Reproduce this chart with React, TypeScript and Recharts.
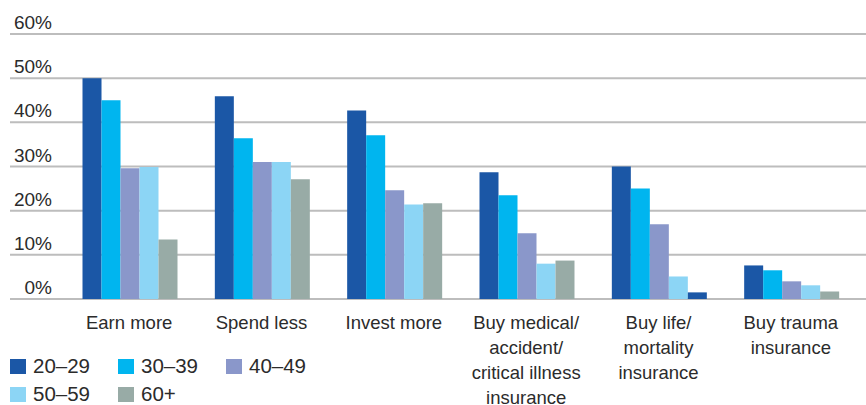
import { Bar, BarChart, CartesianGrid, Cell, XAxis, YAxis } from "recharts"

const categories = [
    "Earn more",
    "Spend less",
    "Invest more",
    "Buy medical/\naccident/\ncritical illness\ninsurance",
    "Buy life/\nmortality\ninsurance",
    "Buy trauma\ninsurance",
]

const age20to29 = [50.0, 45.9, 42.7, 28.7, 30.0, 7.6]
const age30to39 = [45.0, 36.4, 37.1, 23.5, 25.0, 6.5]
const age40to49 = [29.6, 31.0, 24.6, 14.9, 16.9, 4.0]
const age50to59 = [29.9, 31.0, 21.4, 8.0, 5.1, 3.1]
const age60plus = [13.5, 27.1, 21.7, 8.7, 1.5, 1.7]

const seriesNames = ["20–29", "30–39", "40–49", "50–59", "60+"]
const seriesKeys = ["a", "b", "c", "d", "e"]
const colors = ["#1b57a6", "#00b5ef", "#8a97ca", "#8cd5f5", "#98aba6"]

const yTicks = [0, 10, 20, 30, 40, 50, 60]

// in the source the 60+ bar for "Buy life" is drawn in the 20-29 blue
const oddColoured = { series: 4, index: 4, fill: "#1b57a6" }

const data = categories.map((name, i) => ({
    name,
    a: age20to29[i],
    b: age30to39[i],
    c: age40to49[i],
    d: age50to59[i],
    e: age60plus[i],
}))

const font = "'Liberation Sans', Arial, sans-serif"
const textColor = "#2b2b2b"

const YTick = (props: any) => {
    const { y, payload } = props
    return (
        <text
            x={52}
            y={y - 5}
            textAnchor="end"
            fontSize={19}
            fontFamily={font}
            fill={textColor}
        >
            {payload.value}%
        </text>
    )
}

const XTick = (props: any) => {
    const { x, y, payload } = props
    const lines = String(payload.value).split("\n")
    return (
        <g>
            {lines.map((line, i) => (
                <text
                    key={i}
                    x={x}
                    y={y + 22 + i * 25}
                    textAnchor="middle"
                    fontSize={18.5}
                    fontFamily={font}
                    fill={textColor}
                >
                    {line}
                </text>
            ))}
        </g>
    )
}

const LegendBox = () => {
    const rows = [
        [0, 1, 2],
        [3, 4],
    ]
    return (
        <div
            style={{
                position: "absolute",
                left: 10,
                top: 352,
                fontFamily: font,
                fontSize: 20.5,
                color: textColor,
            }}
        >
            {rows.map((row, r) => (
                <div key={r} style={{ display: "flex", height: 28 }}>
                    {row.map((s) => (
                        <div
                            key={s}
                            style={{
                                width: 108,
                                display: "flex",
                                alignItems: "center",
                            }}
                        >
                            <span
                                style={{
                                    width: 16,
                                    height: 15,
                                    background: colors[s],
                                    marginRight: 7,
                                    display: "inline-block",
                                }}
                            />
                            <span>{seriesNames[s]}</span>
                        </div>
                    ))}
                </div>
            ))}
        </div>
    )
}

const App = () => {
    return (
        <div
            style={{
                position: "absolute",
                left: 0,
                top: 0,
                width: 866,
                height: 405,
                background: "#fff",
            }}
        >
            <BarChart
                width={866}
                height={405}
                data={data}
                margin={{ top: 34, right: 0, left: 9, bottom: 6 }}
                barCategoryGap={19.5}
                barGap={0}
            >
                <CartesianGrid
                    vertical={false}
                    stroke="#bdbdbd"
                    strokeWidth={2}
                />
                <XAxis
                    dataKey="name"
                    axisLine={false}
                    tickLine={false}
                    interval={0}
                    height={100}
                    padding={{ left: 53, right: 9 }}
                    tick={<XTick />}
                />
                <YAxis
                    width={1}
                    domain={[0, 60]}
                    ticks={yTicks}
                    interval={0}
                    axisLine={false}
                    tickLine={false}
                    tick={<YTick />}
                />
                {seriesKeys.map((key, s) => (
                    <Bar
                        key={key}
                        dataKey={key}
                        name={seriesNames[s]}
                        fill={colors[s]}
                        isAnimationActive={false}
                    >
                        {data.map((_, i) => (
                            <Cell
                                key={i}
                                fill={
                                    s === oddColoured.series &&
                                    i === oddColoured.index
                                        ? oddColoured.fill
                                        : colors[s]
                                }
                            />
                        ))}
                    </Bar>
                ))}
            </BarChart>
            <LegendBox />
        </div>
    )
}

export default App
